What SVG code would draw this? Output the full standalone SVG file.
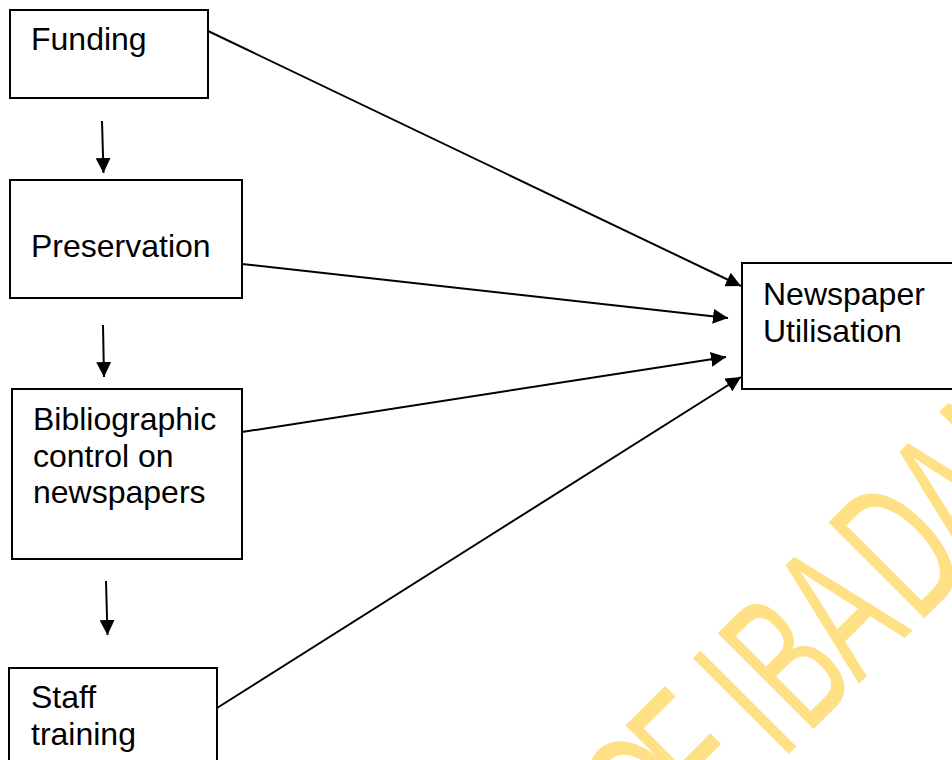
<svg xmlns="http://www.w3.org/2000/svg" width="952" height="760" viewBox="0 0 952 760">
<style>
.box{fill:#fff;stroke:#000;stroke-width:2}
.lbl{font-family:"Liberation Sans",Arial,sans-serif;font-size:32px;fill:#000}
.con{stroke:#000;stroke-width:2;fill:none;marker-end:url(#ah)}
.wm{font-family:"Liberation Sans",Arial,sans-serif;font-size:197px;fill:#FFE084}
</style>
<defs>
<marker id="ah" markerUnits="userSpaceOnUse" markerWidth="16" markerHeight="15" refX="15" refY="7.5" orient="auto">
<path d="M0,0 L15,7.5 L0,15 z" fill="#000"/>
</marker>
</defs>
<rect width="952" height="760" fill="#fff"/>
<g id="watermark">
<text class="wm" transform="rotate(-45) scale(0.58,1)" y="1091" x="-262 -138 -40 24 87 213 357 490 627">OF IBADAN</text>
</g>
<g id="connectors">
<line class="con" x1="102" y1="121" x2="103.5" y2="173"/>
<line class="con" x1="103" y1="325" x2="104" y2="377"/>
<line class="con" x1="106" y1="581" x2="107.5" y2="635"/>
<line class="con" x1="208" y1="31" x2="741" y2="286"/>
<line class="con" x1="242" y1="264" x2="728" y2="318"/>
<line class="con" x1="242" y1="432" x2="726" y2="357"/>
<line class="con" x1="217" y1="708" x2="741" y2="377"/>
</g>
<g id="funding">
<rect class="box" x="10" y="10" width="198" height="88"/>
<text class="lbl" x="31" y="50">Funding</text>
</g>
<g id="preservation">
<rect class="box" x="10" y="180" width="232" height="118"/>
<text class="lbl" x="31" y="257">Preservation</text>
</g>
<g id="bibliographic">
<rect class="box" x="12" y="389" width="230" height="170"/>
<text class="lbl" x="33" y="430">Bibliographic</text>
<text class="lbl" x="33" y="467">control on</text>
<text class="lbl" x="33" y="503">newspapers</text>
</g>
<g id="staff">
<rect class="box" x="9" y="668" width="208" height="110"/>
<text class="lbl" x="31" y="708">Staff</text>
<text class="lbl" x="31" y="745">training</text>
</g>
<g id="utilisation">
<rect class="box" x="742" y="263" width="220" height="126"/>
<text class="lbl" x="763" y="305">Newspaper</text>
<text class="lbl" x="763" y="342">Utilisation</text>
</g>
</svg>
